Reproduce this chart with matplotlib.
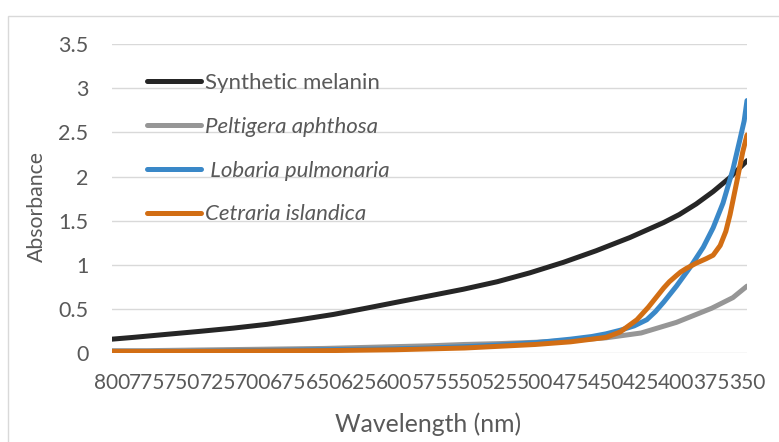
import matplotlib
matplotlib.use('Agg')
import matplotlib.pyplot as plt
from matplotlib.patches import Rectangle

# wavelengths (nm) and absorbance
wl_melanin = [800, 785, 761, 738, 714, 690, 667, 643, 620, 596, 575, 551, 527, 504, 480, 457, 433, 409, 398, 386, 374, 362, 350]
abs_melanin = [0.16, 0.18, 0.215, 0.248, 0.285, 0.328, 0.38, 0.44, 0.51, 0.585, 0.65, 0.725, 0.81, 0.91, 1.03, 1.16, 1.31, 1.48, 1.57, 1.69, 1.83, 1.99, 2.18]

wl_peltigera = [800, 775, 750, 725, 700, 675, 650, 625, 600, 575, 550, 525, 500, 475, 450, 425, 400, 375, 360, 350]
abs_peltigera = [0.03, 0.03, 0.035, 0.04, 0.045, 0.05, 0.055, 0.065, 0.075, 0.085, 0.10, 0.11, 0.125, 0.145, 0.175, 0.23, 0.35, 0.51, 0.63, 0.76]

wl_lobaria = [800, 750, 700, 650, 600, 575, 550, 525, 500, 475, 460, 450, 440, 430, 421, 415, 409, 400, 390, 381, 374, 367, 360, 355, 352, 350]
abs_lobaria = [0.02, 0.02, 0.03, 0.04, 0.05, 0.06, 0.075, 0.095, 0.12, 0.16, 0.19, 0.22, 0.26, 0.31, 0.38, 0.47, 0.58, 0.76, 0.98, 1.20, 1.42, 1.70, 2.08, 2.42, 2.63, 2.86]

wl_cetraria = [800, 750, 700, 650, 600, 550, 525, 500, 475, 450, 440, 428, 420, 409, 405, 400, 397, 393, 386, 379, 374, 369, 365, 362, 357, 353, 350]
abs_cetraria = [0.02, 0.02, 0.025, 0.03, 0.04, 0.06, 0.08, 0.10, 0.13, 0.18, 0.24, 0.38, 0.52, 0.74, 0.81, 0.88, 0.92, 0.96, 1.02, 1.07, 1.11, 1.22, 1.38, 1.57, 1.96, 2.28, 2.47]

series_names = ['Synthetic melanin', 'Peltigera aphthosa', ' Lobaria pulmonaria', 'Cetraria islandica']
series_colors = ['#262626', '#969696', '#3A88C8', '#D26E14']

x_ticks = list(range(800, 349, -25))
y_ticks = [0, 0.5, 1, 1.5, 2, 2.5, 3, 3.5]

plt.rcParams['font.family'] = ['Lato', 'DejaVu Sans']
txt_col = '#595959'
W, H = 779, 442

fig = plt.figure(figsize=(W / 100, H / 100), dpi=100)
ax = fig.add_axes([112 / W, 1 - 353.3 / H, 635 / W, 309.3 / H])

data = [(wl_melanin, abs_melanin), (wl_peltigera, abs_peltigera),
        (wl_lobaria, abs_lobaria), (wl_cetraria, abs_cetraria)]
for (x, y), name, c in zip(data, series_names, series_colors):
    ax.plot(x, y, color=c, lw=3.6, label=name, solid_capstyle='round',
            solid_joinstyle='round', zorder=3)

ax.set_xlim(800, 350)
ax.set_ylim(0, 3.5)
ax.set_xticks(x_ticks)
ax.set_xticklabels([str(t) for t in x_ticks])
ax.set_yticks(y_ticks)
ax.set_yticklabels(['0', '0.5', '1', '1.5', '2', '2.5', '3', '3.5'])
ax.grid(axis='y', color='#D9D9D9', lw=1.0, zorder=0)
ax.set_axisbelow(True)
for s in ax.spines.values():
    s.set_visible(False)
ax.tick_params(axis='both', length=0, labelsize=15, colors=txt_col)
ax.tick_params(axis='y', pad=17, labelsize=15.5)
ax.tick_params(axis='x', pad=14)

ax.set_xlabel('Wavelength (nm)', fontsize=17.8, color=txt_col)
ax.xaxis.set_label_coords((428.5 - 112) / 635, (353.3 - 424) / 309.3)
ax.xaxis.label.set_va('center')
ax.set_ylabel('Absorbance', fontsize=15.3, color=txt_col)
ax.yaxis.set_label_coords((37 - 112) / 635, (353.3 - 206) / 309.3)
ax.yaxis.label.set_va('center')

leg = ax.legend(loc='upper left', bbox_to_anchor=(147 / W, 1 - 73 / H), bbox_transform=fig.transFigure,
                frameon=False, fontsize=16, handlelength=2.45, handletextpad=0.15,
                labelspacing=1.07, borderpad=0, borderaxespad=0)
for i, t in enumerate(leg.get_texts()):
    t.set_color(txt_col)
    if i > 0:
        t.set_style('italic')
for h in leg.get_lines():
    h.set_linewidth(3.6)

fig.patches.append(Rectangle((8 / W, -0.1), 1.2, 1.1 - 16 / H, transform=fig.transFigure,
                             fill=False, edgecolor='#D9D9D9', lw=1.0))

fig.savefig('out.png', dpi=100)
